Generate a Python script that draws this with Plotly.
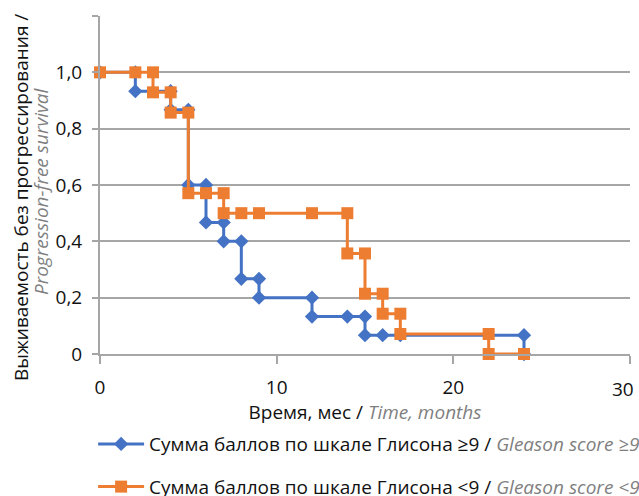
import plotly.graph_objects as go

# Kaplan-Meier style step curves: progression-free survival by Gleason score group
blue_months = [0, 2, 2, 4, 4, 5, 5, 6, 6, 7, 7, 8, 8, 9, 9, 12, 12, 14, 15, 15, 16, 17, 24, 24]
blue_surv = [1.0, 1.0, 0.933, 0.933, 0.867, 0.867, 0.6, 0.6, 0.467, 0.467, 0.4, 0.4,
             0.267, 0.267, 0.2, 0.2, 0.133, 0.133, 0.133, 0.067, 0.067, 0.067, 0.067, 0.0]

orange_months = [0, 2, 3, 3, 4, 4, 5, 5, 6, 7, 7, 8, 9, 12, 14, 14, 15, 15, 16, 16, 17, 17, 22, 22, 24]
orange_surv = [1.0, 1.0, 1.0, 0.929, 0.929, 0.857, 0.857, 0.571, 0.571, 0.571, 0.5, 0.5, 0.5,
               0.5, 0.5, 0.357, 0.357, 0.214, 0.214, 0.143, 0.143, 0.071, 0.071, 0.0, 0.0]

x_ticks = [0, 10, 20, 30]
x_tick_labels = ["0", "10", "20", "30"]
y_ticks = [0, 0.2, 0.4, 0.6, 0.8, 1.0, 1.2]
y_tick_labels = ["0", "0,2", "0,4", "0,6", "0,8", "1,0", ""]

blue_name = "Сумма баллов по шкале Глисона ≥9 / <span style='color:#7f7f7f'><i>Gleason score ≥9</i></span>"
orange_name = "Сумма баллов по шкале Глисона <9 / <span style='color:#7f7f7f'><i>Gleason score <9</i></span>"

BLUE = "#4472C4"
ORANGE = "#ED7D31"
GRID = "#a6a6a6"
TEXT = "#111111"
FONT = "Open Sans"
FS = 19

fig = go.Figure()
fig.add_trace(go.Scatter(
    x=blue_months, y=blue_surv, mode="lines+markers", name=blue_name,
    line=dict(color=BLUE, width=3),
    marker=dict(symbol="diamond", size=11, color=BLUE),
    cliponaxis=False, legendgroup="a",
))
fig.add_trace(go.Scatter(
    x=orange_months, y=orange_surv, mode="lines+markers", name=orange_name,
    line=dict(color=ORANGE, width=3),
    marker=dict(symbol="square", size=12, color=ORANGE),
    cliponaxis=False, legendgroup="b",
))

# the last x tick label is right-aligned to its tick so it stays inside the page
shown_x_labels = x_tick_labels[:-1] + [""]

fig.update_layout(
    width=639, height=496,
    margin=dict(l=100, r=9, t=16, b=142, autoexpand=False),
    paper_bgcolor="white", plot_bgcolor="white",
    font=dict(family=FONT, size=FS, color=TEXT),
    showlegend=True,
    legend=dict(
        x=-0.013, y=0.143, xref="paper", yref="container",
        xanchor="left", yanchor="top",
        font=dict(size=FS, color=TEXT),
        traceorder="grouped", tracegroupgap=15,
        itemwidth=46, bgcolor="rgba(0,0,0,0)",
    ),
    xaxis=dict(
        range=[0, 30], tickvals=x_ticks, ticktext=shown_x_labels,
        showgrid=False, zeroline=False,
        showline=True, linecolor=GRID, linewidth=2,
        ticks="outside", ticklen=8, tickwidth=2, tickcolor=GRID,
        tickfont=dict(size=FS, color=TEXT),
        ticklabeloverflow="allow", ticklabelstandoff=7,
        title=dict(
            text="Время, мес / <span style='color:#7f7f7f'><i>Time, months</i></span>",
            font=dict(size=FS, color=TEXT), standoff=8,
        ),
    ),
    yaxis=dict(
        range=[0, 1.2], tickvals=y_ticks, ticktext=y_tick_labels,
        showgrid=True, gridcolor=GRID, gridwidth=2, zeroline=False,
        showline=True, linecolor=GRID, linewidth=2,
        ticks="outside", ticklen=6, tickwidth=2, tickcolor=GRID,
        tickfont=dict(size=FS, color=TEXT),
        ticklabelstandoff=6,
    ),
)

fig.add_annotation(
    text=x_tick_labels[-1], x=x_ticks[-1], xref="x", y=0, yref="paper",
    xanchor="right", yanchor="top", xshift=6, yshift=-20,
    showarrow=False, font=dict(size=FS, color=TEXT),
)

# Two-line y-axis title: Russian line in black, English line in grey italic
fig.add_annotation(
    text="Выживаемость без прогрессирования /",
    xref="paper", yref="paper", x=0, y=0.4615, xanchor="center", yanchor="middle",
    xshift=-79, textangle=-90, showarrow=False,
    font=dict(size=FS, color=TEXT),
)
fig.add_annotation(
    text="<i>Progression-free survival</i>",
    xref="paper", yref="paper", x=0, y=0.482, xanchor="center", yanchor="middle",
    xshift=-59, textangle=-90, showarrow=False,
    font=dict(size=FS, color="#7f7f7f"),
)

fig.write_html("out.html")
